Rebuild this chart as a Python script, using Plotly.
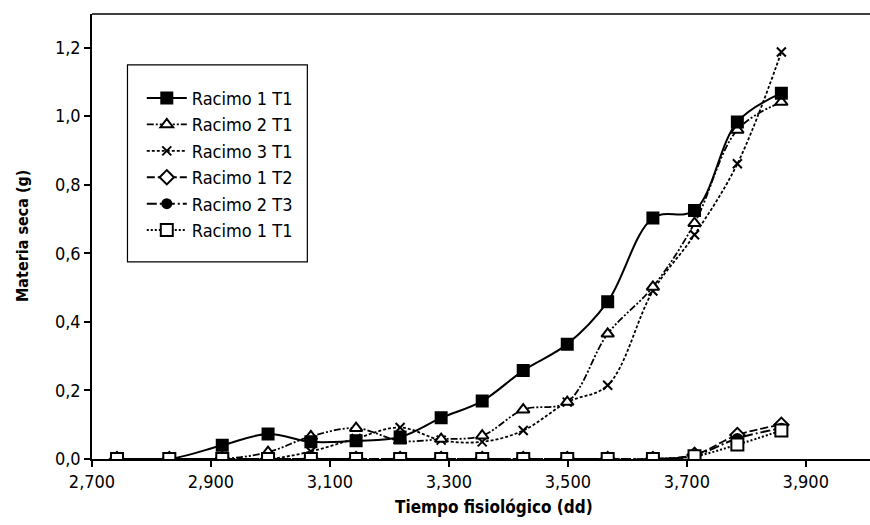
import plotly.graph_objects as go

# Data
tiempo = [2742, 2830, 2919, 2996, 3068, 3144, 3218, 3287, 3356, 3425, 3499, 3567, 3643, 3713, 3785, 3859]

racimo1_t1 = [0, 0, 0.040, 0.073, 0.050, 0.053, 0.064, 0.120, 0.169, 0.258, 0.335, 0.459, 0.703, 0.725, 0.983, 1.067]
racimo2_t1 = [0, 0, 0, 0.020, 0.066, 0.090, 0.053, 0.058, 0.068, 0.144, 0.166, 0.365, 0.502, 0.688, 0.960, 1.041]
racimo3_t1 = [0, 0, 0, 0, 0.022, 0.060, 0.092, 0.055, 0.050, 0.083, 0.166, 0.215, 0.490, 0.654, 0.861, 1.187]
racimo1_t2 = [0, 0, 0, 0, 0, 0, 0, 0, 0, 0, 0, 0, 0, 0.012, 0.070, 0.100]
racimo2_t3 = [0, 0, 0, 0, 0, 0, 0, 0, 0, 0, 0, 0, 0, 0.010, 0.060, 0.090]
racimo1_t1b = [0, 0, 0, 0, 0, 0, 0, 0, 0, 0, 0, 0, 0, 0.008, 0.042, 0.083]

series_names = ["Racimo 1 T1", "Racimo 2 T1", "Racimo 3 T1", "Racimo 1 T2", "Racimo 2 T3", "Racimo 1 T1"]

x_tickvals = [2700, 2900, 3100, 3300, 3500, 3700, 3900]
x_ticktext = ["2,700", "2,900", "3,100", "3,300", "3,500", "3,700", "3,900"]
y_tickvals = [0, 0.2, 0.4, 0.6, 0.8, 1.0, 1.2]
y_ticktext = ["0,0", "0,2", "0,4", "0,6", "0,8", "1,0", "1,2"]

x_title = "Tiempo fisiológico (dd)"
y_title = "Materia seca (g)"

FONT = "DejaVu Sans Condensed, Liberation Sans Narrow, sans-serif"

styles = [
    dict(dash="solid", width=2, symbol="square", size=11, color="black"),
    dict(dash="7px,2px,2px,2px,2px,2px", width=1.8, symbol="triangle-up", size=11, color="white"),
    dict(dash="3px,2px", width=1.8, symbol="x-thin-open", size=9, color="black"),
    dict(dash="8px,3px", width=1.8, symbol="diamond", size=11, color="white"),
    dict(dash="10px,3px,2px,3px", width=2, symbol="circle", size=9, color="black"),
    dict(dash="2px,2px", width=2, symbol="square", size=12, color="white"),
]

all_series = [racimo1_t1, racimo2_t1, racimo3_t1, racimo1_t2, racimo2_t3, racimo1_t1b]
draw_order = [3, 4, 2, 1, 0, 5]

fig = go.Figure()
traces = {}
for i in range(len(all_series)):
    s = styles[i]
    traces[i] = go.Scatter(
        x=tiempo, y=all_series[i], name=series_names[i], mode="lines+markers",
        line=dict(color="black", width=s["width"], dash=s["dash"], shape="spline"),
        marker=dict(symbol=s["symbol"], size=s["size"], color=s["color"],
                    line=dict(color="black", width=2)),
        legendrank=i + 1,
    )
for i in draw_order:
    fig.add_trace(traces[i])

fig.update_layout(
    width=870, height=525,
    margin=dict(l=91.5, r=0, t=14, b=65.7),
    paper_bgcolor="white", plot_bgcolor="white",
    font=dict(family=FONT, size=18, color="black"),
    showlegend=True,
    legend=dict(
        x=0.064, y=0.852, xanchor="left", yanchor="top",
        borderwidth=0, bgcolor="rgba(0,0,0,0)",
        font=dict(family=FONT, size=18, color="black"),
        tracegroupgap=0, itemwidth=40,
    ),
    xaxis=dict(
        range=[2700, 4008], tickvals=x_tickvals, ticktext=x_ticktext,
        showgrid=False, zeroline=False, showline=True, linecolor="black", linewidth=1.5,
        ticks="outside", ticklen=6, tickwidth=1.5, tickcolor="black",
        tickfont=dict(family=FONT, size=18, color="black"),
    ),
    yaxis=dict(
        range=[0, 1.298], tickvals=y_tickvals, ticktext=y_ticktext,
        showgrid=False, zeroline=False, showline=True, linecolor="black", linewidth=1.5,
        ticks="outside", ticklen=6, tickwidth=1.5, tickcolor="black",
        tickfont=dict(family=FONT, size=18, color="black"),
    ),
)
# top border line
fig.add_shape(type="line", xref="paper", yref="paper", x0=0, x1=1, y0=1, y1=1,
              line=dict(color="black", width=1.5))
# legend frame
fig.add_shape(type="rect", xref="paper", yref="paper", x0=0.0456, x1=0.2768, y0=0.443, y1=0.8855,
              line=dict(color="black", width=1.2), fillcolor="rgba(0,0,0,0)", layer="below")

fig.add_annotation(text="<b>" + x_title + "</b>", xref="paper", yref="paper",
                   x=(494 - 91.5) / 778.5, y=-(507 - 459.3) / 445.3, xanchor="center", yanchor="middle",
                   showarrow=False, font=dict(family=FONT, size=17, color="black"))
fig.add_annotation(text="<b>" + y_title + "</b>", xref="paper", yref="paper",
                   x=-(91.5 - 22) / 778.5, y=0.5, xanchor="center", yanchor="middle", textangle=-90,
                   showarrow=False, font=dict(family=FONT, size=16, color="black"))

fig.write_html("out.html")
